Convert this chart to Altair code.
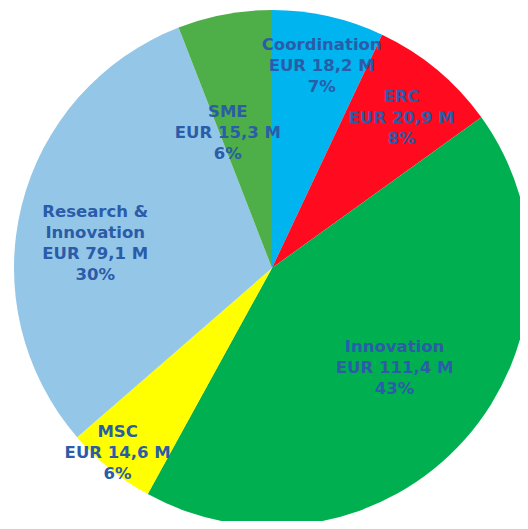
import altair as alt
import pandas as pd

categories = ["Coordination", "ERC", "Innovation", "MSC", "Research & Innovation", "SME"]
names = ["Coordination", "ERC", "Innovation", "MSC", "Research &\nInnovation", "SME"]
values = [18.2, 20.9, 111.4, 14.6, 79.1, 15.3]
colors = ["#00b4f0", "#ff0a1e", "#00b050", "#ffff00", "#94c6e8", "#4eae48"]

total = sum(values)
df = pd.DataFrame({
    "category": categories,
    "value": values,
    "order": list(range(len(categories))),
})
df["label"] = [
    f"{n}\nEUR {str(v).replace('.', ',')} M\n{round(v / total * 100)}%"
    for n, v in zip(names, values)
]

CX, CY, R = 264, 260, 258
LH = 21

base = alt.Chart(df).encode(
    theta=alt.Theta("value:Q", stack=True),
    order=alt.Order("order:Q"),
    x=alt.value(CX),
    y=alt.value(CY),
)

pie = base.mark_arc(radius=R).encode(
    color=alt.Color("category:N", scale=alt.Scale(domain=categories, range=colors), legend=None)
)

# label placement style per slice: (radius, dx, dy, number of lines)
label_style = {
    "Coordination": (209, 4, 2, 3),
    "ERC": (198, 3, 2, 3),
    "Innovation": (157, 5, -4, 3),
    "MSC": (241, -3, -3, 3),
    "Research & Innovation": (178, -4, 18, 4),
    "SME": (142, -18, 5, 3),
}

layers = [pie]
for cat in categories:
    r, dx, dy, n = label_style[cat]
    layers.append(
        base.transform_calculate(
            lbl=f"datum.category == '{cat}' ? datum.label : ''"
        ).mark_text(
            radius=r, dx=dx, dy=dy - (n - 1) * LH / 2, lineBreak="\n", font="DejaVu Sans",
            fontWeight="bold", fontSize=16.5, color="#2a5ca8", lineHeight=LH,
            align="center", baseline="middle",
        ).encode(text="lbl:N")
    )

chart = alt.layer(*layers).properties(
    width=512, height=513, autosize=alt.AutoSizeParams(type="none"), padding=0
).configure_view(stroke=None)

chart.save("out.html", embed_options={"renderer": "svg", "actions": False})
